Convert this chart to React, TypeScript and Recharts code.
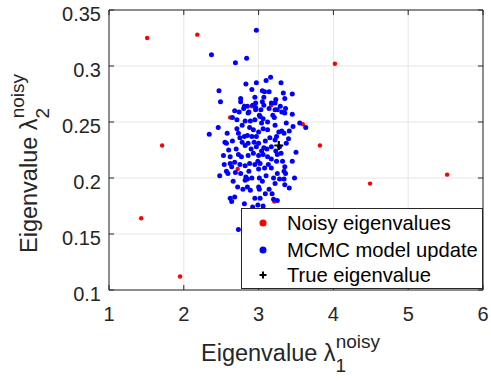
import React from 'react';
import { ScatterChart, Scatter, XAxis, YAxis, CartesianGrid, ReferenceLine } from 'recharts';

const xTicks = [1, 2, 3, 4, 5, 6];
const yTicks = [0.1, 0.15, 0.2, 0.25, 0.3, 0.35];

// noisy eigenvalue estimates (red)
const noisyX = [1.51, 2.18, 4.02, 3.82, 4.49, 5.52, 1.71, 1.43, 1.95, 2.62, 2.91, 3.17, 3.59, 2.72, 3.21];
const noisyY = [0.325, 0.328, 0.302, 0.229, 0.195, 0.203, 0.229, 0.164, 0.112, 0.254, 0.264, 0.265, 0.248, 0.208, 0.179];

// MCMC samples (blue)
const mcmcX = [
  2.97, 2.37, 2.69, 2.84, 3.16, 3.10, 3.30, 2.83, 2.97, 2.47, 2.91, 3.05, 3.08, 3.14, 3.33, 3.45,
  3.35, 2.76, 2.76, 2.49, 2.95, 3.07, 3.05, 2.96, 3.23, 3.17, 3.22, 2.81, 2.85, 2.80, 2.96, 2.96,
  3.07, 3.29, 3.25, 3.22, 3.36, 2.68, 2.74, 2.87, 3.31, 3.45, 3.01, 2.86, 3.02, 3.06, 3.21, 3.35,
  2.65, 2.71, 2.82, 2.89, 2.95, 3.04, 3.06, 3.22, 3.37, 3.46, 3.31, 3.34, 3.41, 3.63, 3.55, 2.46,
  2.34, 2.58, 2.71, 2.73, 2.81, 2.85, 2.91, 2.97, 3.24, 3.22, 3.37, 2.55, 2.57, 2.65, 2.78, 2.82,
  2.86, 2.94, 3.00, 3.07, 3.04, 3.11, 3.17, 3.23, 3.25, 3.50, 2.53, 2.62, 2.73, 2.77, 2.86, 2.93,
  3.00, 3.06, 3.17, 3.24, 3.32, 2.54, 2.62, 2.68, 2.75, 2.82, 2.88, 2.95, 3.02, 3.13, 3.35, 2.48,
  2.57, 2.59, 2.64, 3.00, 3.08, 3.17, 2.66, 2.83, 2.85, 2.82, 3.01, 2.91, 3.25, 3.34, 3.36, 3.20,
  3.28, 3.34, 3.48, 3.22, 3.35, 3.41, 2.79, 2.89, 3.00, 3.01, 3.14, 3.18, 2.62, 2.68, 2.64, 2.95,
  3.02, 3.20, 3.25, 2.81, 2.92, 2.99, 3.06, 2.73, 2.88, 2.93, 3.00, 3.12, 3.15, 3.09, 2.90, 2.97,
  3.12, 2.70, 2.75, 3.28, 3.30, 2.69, 2.76, 3.10, 3.05, 2.85, 3.12, 3.19, 2.92, 3.03, 2.78, 2.60,
  3.40, 3.45, 2.99, 2.87, 3.09, 2.72, 3.27, 3.14,
];
const mcmcY = [
  0.332, 0.310, 0.303, 0.307, 0.290, 0.287, 0.285, 0.284, 0.285, 0.278, 0.279, 0.278, 0.277, 0.277, 0.276, 0.275,
  0.271, 0.271, 0.268, 0.268, 0.272, 0.272, 0.268, 0.267, 0.270, 0.267, 0.267, 0.264, 0.264, 0.262, 0.263, 0.261,
  0.265, 0.264, 0.261, 0.261, 0.262, 0.260, 0.259, 0.259, 0.259, 0.257, 0.256, 0.258, 0.255, 0.253, 0.254, 0.258,
  0.254, 0.252, 0.251, 0.251, 0.252, 0.249, 0.244, 0.247, 0.249, 0.246, 0.242, 0.240, 0.242, 0.245, 0.249, 0.245,
  0.239, 0.240, 0.244, 0.240, 0.237, 0.238, 0.237, 0.237, 0.237, 0.234, 0.231, 0.232, 0.231, 0.233, 0.232, 0.229,
  0.231, 0.232, 0.231, 0.227, 0.224, 0.226, 0.228, 0.224, 0.221, 0.223, 0.220, 0.219, 0.221, 0.219, 0.220, 0.222,
  0.220, 0.221, 0.217, 0.215, 0.215, 0.212, 0.213, 0.214, 0.212, 0.211, 0.213, 0.212, 0.213, 0.212, 0.210, 0.202,
  0.206, 0.204, 0.210, 0.208, 0.209, 0.209, 0.197, 0.201, 0.199, 0.198, 0.200, 0.200, 0.204, 0.206, 0.204, 0.200,
  0.199, 0.199, 0.200, 0.195, 0.194, 0.191, 0.190, 0.189, 0.192, 0.190, 0.190, 0.186, 0.182, 0.183, 0.179, 0.182,
  0.182, 0.181, 0.180, 0.177, 0.174, 0.176, 0.175, 0.154, 0.245, 0.243, 0.241, 0.243, 0.236, 0.233, 0.226, 0.228,
  0.219, 0.226, 0.236, 0.228, 0.222, 0.205, 0.204, 0.202, 0.197, 0.192, 0.250, 0.256, 0.265, 0.261, 0.247, 0.225,
  0.235, 0.215, 0.215, 0.206, 0.186, 0.192, 0.241, 0.262,
];

const trueX = [3.27];
const trueY = [0.229];

const noisyData = noisyX.map((x, i) => ({ x, y: noisyY[i] }));
const mcmcData = mcmcX.map((x, i) => ({ x, y: mcmcY[i] }));
const trueData = trueX.map((x, i) => ({ x, y: trueY[i] }));

const FONT = '"Liberation Sans", Arial, Helvetica, sans-serif';
const INK = '#262626';
const TOP = 10;
const BOTTOM = 290;
const LEFT = 109;
const RIGHT = 483;

const XTick = (props: any) => {
  const { x, payload } = props;
  return (
    <g>
      <line x1={x} x2={x} y1={BOTTOM} y2={BOTTOM - 5} stroke={INK} />
      <line x1={x} x2={x} y1={TOP} y2={TOP + 5} stroke={INK} />
      <text x={x} y={BOTTOM + 30.5} textAnchor="middle" fontSize={20} fill={INK} fontFamily={FONT}>
        {payload.value}
      </text>
    </g>
  );
};

const YTick = (props: any) => {
  const { y, payload } = props;
  return (
    <g>
      <line x1={LEFT} x2={LEFT + 5} y1={y} y2={y} stroke={INK} />
      <line x1={RIGHT} x2={RIGHT - 5} y1={y} y2={y} stroke={INK} />
      <text x={101} y={y + 11} textAnchor="end" fontSize={20} fill={INK} fontFamily={FONT}>
        {payload.value}
      </text>
    </g>
  );
};

const AxisTitles = () => (
  <svg width={491} height={381} style={{ position: 'absolute', left: 0, top: 0, pointerEvents: 'none' }}>
    <text x={201} y={361} fontSize={23.5} fill={INK} fontFamily={FONT}>
      Eigenvalue λ
      <tspan dy={11} fontSize={19}>1</tspan>
      <tspan dx={-10.5} dy={-24} fontSize={19}>noisy</tspan>
    </text>
    <g transform="translate(37,253) rotate(-90)">
      <text x={0} y={0} fontSize={23.5} fill={INK} fontFamily={FONT}>
        Eigenvalue λ
        <tspan dy={12} fontSize={19}>2</tspan>
        <tspan dx={-10.5} dy={-25} fontSize={19}>noisy</tspan>
      </text>
    </g>
  </svg>
);

const LegendBox = () => (
  <div
    style={{
      position: 'absolute',
      left: 241,
      top: 208,
      width: 242,
      height: 81,
      boxSizing: 'border-box',
      border: `1.5px solid ${INK}`,
      background: '#fff',
    }}
  >
    <svg width={240} height={78} style={{ position: 'absolute', left: 0, top: 0 }}>
      <circle cx={21} cy={14} r={3.5} fill="#ff0000" />
      <text x={45} y={21} fontSize={20.2} fill="#000" fontFamily={FONT}>Noisy eigenvalues</text>
      <circle cx={21} cy={41} r={3.5} fill="#0000ff" />
      <text x={45} y={48} fontSize={20.2} fill="#000" fontFamily={FONT}>MCMC model update</text>
      <path d="M17.5 66 H24.5 M21 62.5 V69.5" stroke="#000" strokeWidth={2} />
      <text x={45} y={73} fontSize={20.2} fill="#000" fontFamily={FONT}>True eigenvalue</text>
    </svg>
  </div>
);

export default function App() {
  return (
    <div style={{ position: 'absolute', left: 0, top: 0, width: 491, height: 381, background: '#fff' }}>
      <ScatterChart width={491} height={381} margin={{ top: 10, right: 8, bottom: 0, left: 0 }}>
        <CartesianGrid stroke="#e6e6e6" strokeWidth={1} />
        <XAxis
          type="number"
          dataKey="x"
          domain={[1, 6]}
          ticks={xTicks}
          interval={0}
          height={91}
          tickLine={false}
          axisLine={{ stroke: INK }}
          tick={<XTick />}
          allowDataOverflow
        />
        <YAxis
          type="number"
          dataKey="y"
          domain={[0.1, 0.35]}
          ticks={yTicks}
          interval={0}
          width={109}
          tickLine={false}
          axisLine={{ stroke: INK }}
          tick={<YTick />}
          allowDataOverflow
        />
        <ReferenceLine y={0.35} stroke={INK} />
        <ReferenceLine x={6} stroke={INK} />
        <Scatter
          name="Noisy eigenvalues"
          data={noisyData}
          isAnimationActive={false}
          shape={(p: any) => <circle cx={p.cx} cy={p.cy} r={2.2} fill="#ff0000" />}
        />
        <Scatter
          name="MCMC model update"
          data={mcmcData}
          isAnimationActive={false}
          shape={(p: any) => <circle cx={p.cx} cy={p.cy} r={2.5} fill="#0000ff" />}
        />
        <Scatter
          name="True eigenvalue"
          data={trueData}
          isAnimationActive={false}
          shape={(p: any) => (
            <path
              d={`M${p.cx - 4.5} ${p.cy} H${p.cx + 4.5} M${p.cx} ${p.cy - 4.5} V${p.cy + 4.5}`}
              stroke="#000"
              strokeWidth={2.2}
            />
          )}
        />
      </ScatterChart>
      <AxisTitles />
      <LegendBox />
    </div>
  );
}
